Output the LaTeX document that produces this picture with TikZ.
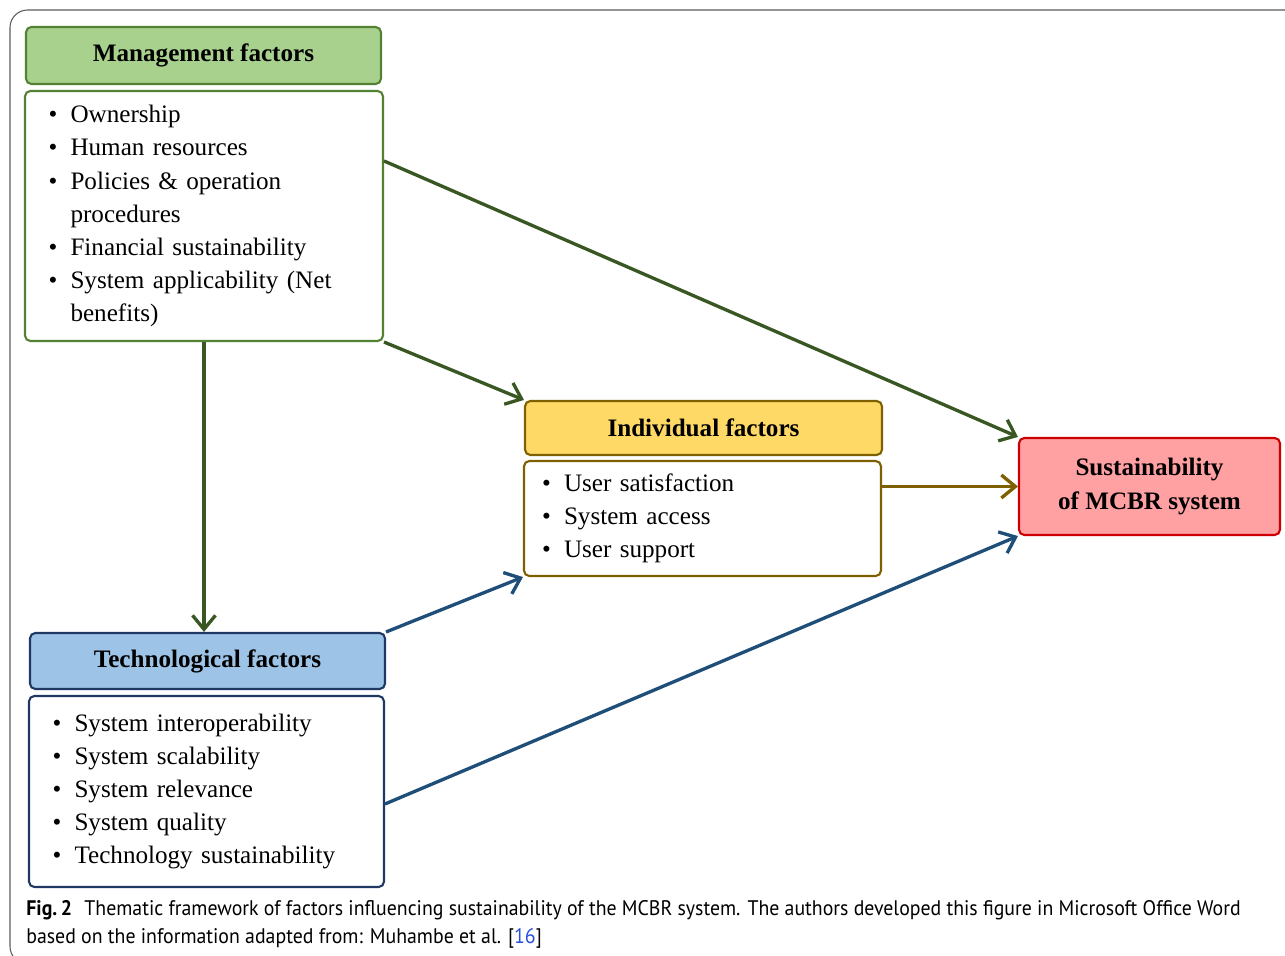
\documentclass[tikz,border=0pt]{standalone}
\usepackage{fontspec}
\setmainfont{Liberation Serif}
\newfontfamily\capfont[FakeStretch=0.94]{PT Sans}
\usepackage{xcolor}
\definecolor{mgfill}{RGB}{169,209,142}
\definecolor{mgline}{RGB}{84,130,53}
\definecolor{mgarrow}{RGB}{56,87,35}
\definecolor{infill}{RGB}{255,217,102}
\definecolor{inline}{RGB}{127,96,0}
\definecolor{tcfill}{RGB}{157,195,230}
\definecolor{tcline}{RGB}{31,56,100}
\definecolor{tcarrow}{RGB}{31,78,121}
\definecolor{sufill}{RGB}{255,160,163}
\definecolor{suline}{RGB}{204,0,0}
\definecolor{framegray}{RGB}{90,90,90}
\definecolor{reflink}{RGB}{40,80,220}
\usepackage{tikz}
\usetikzlibrary{arrows.meta, positioning}

\newcommand{\itm}{\makebox[0.44cm][l]{\textbullet}}
\newcommand{\cont}{\hspace*{0.44cm}}

\begin{document}
\begin{tikzpicture}[x=0.02cm, y=-0.02cm,
  txt/.style={font=\fontsize{14.3}{18.8}\selectfont},
  headbox/.style={txt, font=\fontsize{14.3}{18.8}\selectfont\bfseries, rounded corners=3pt, line width=1.2pt, align=center},
  listbox/.style={txt, draw, fill=white, rounded corners=3pt, line width=1.2pt, align=left, inner xsep=0.47cm},
  link/.style={line width=1.9pt, -{Straight Barb[length=2.8mm, width=4.6mm]}}]

\useasboundingbox (0,0) rectangle (1285,956);

% outer frame
\draw[framegray, line width=0.6pt, rounded corners=10pt] (1300,10) -- (10,10) -- (10,964) -- (80,964);

% === Management factors ===
\node[headbox, draw=mgline, fill=mgfill, minimum width=7.1cm, minimum height=1.14cm] (mghead) at (203.5,55.5) {Management factors};
\node[listbox, draw=mgline, text width=6.22cm, minimum height=5.0cm] (mglist) at (204,216)
  {\itm Ownership\\ \itm Human resources\\ \itm Policies \& operation\\ \cont procedures\\ \itm Financial sustainability\\ \itm System applicability (Net\\ \cont benefits)};

% === Individual factors ===
\node[headbox, draw=inline, fill=infill, minimum width=7.14cm, minimum height=1.08cm] (inhead) at (703.5,428) {Individual factors};
\node[listbox, draw=inline, text width=6.42cm, minimum height=2.3cm, inner xsep=0.36cm] (inlist) at (702.5,518.5)
  {\itm User satisfaction\\ \itm System access\\ \itm User support};

% === Technological factors ===
\node[headbox, draw=tcline, fill=tcfill, minimum width=7.1cm, minimum height=1.12cm] (tchead) at (207.5,661) {Technological factors};
\node[listbox, draw=tcline, text width=6.16cm, minimum height=3.82cm] (tclist) at (206.5,791.5)
  {\itm System interoperability\\ \itm System scalability\\ \itm System relevance\\ \itm System quality\\ \itm Technology sustainability};

% === Outcome ===
\node[headbox, draw=suline, fill=sufill, minimum width=5.22cm, minimum height=1.94cm,
      font=\fontsize{14.3}{19.3}\selectfont\bfseries] (su) at (1149.5,486.5) {Sustainability\\of MCBR system};

% connectors
\draw[link, mgarrow] (mglist.17) -- (su.north west);
\draw[link, mgarrow] (mglist.south east) -- (inhead.north west);
\draw[link, mgarrow] (mglist.south) -- (mglist.south |- tchead.north);
\draw[link, inline] (inlist.east |- su.west) -- (su.west);
\draw[link, tcarrow] (tchead.north east) -- (inlist.south west);
\draw[link, tcarrow] (tclist.-4) -- (su.south west);

% caption
\node[anchor=base west, inner sep=0pt, align=left, font=\capfont\fontsize{12}{15.4}\selectfont] (cap) at (26,943)
  {\textbf{Fig.\,2}\hspace{0.25cm}Thematic framework of factors influencing sustainability of the MCBR system. The authors developed this figure in Microsoft Office Word\\
   based on the information adapted from: Muhambe et al. [\textcolor{reflink}{16}]};

\end{tikzpicture}
\end{document}
